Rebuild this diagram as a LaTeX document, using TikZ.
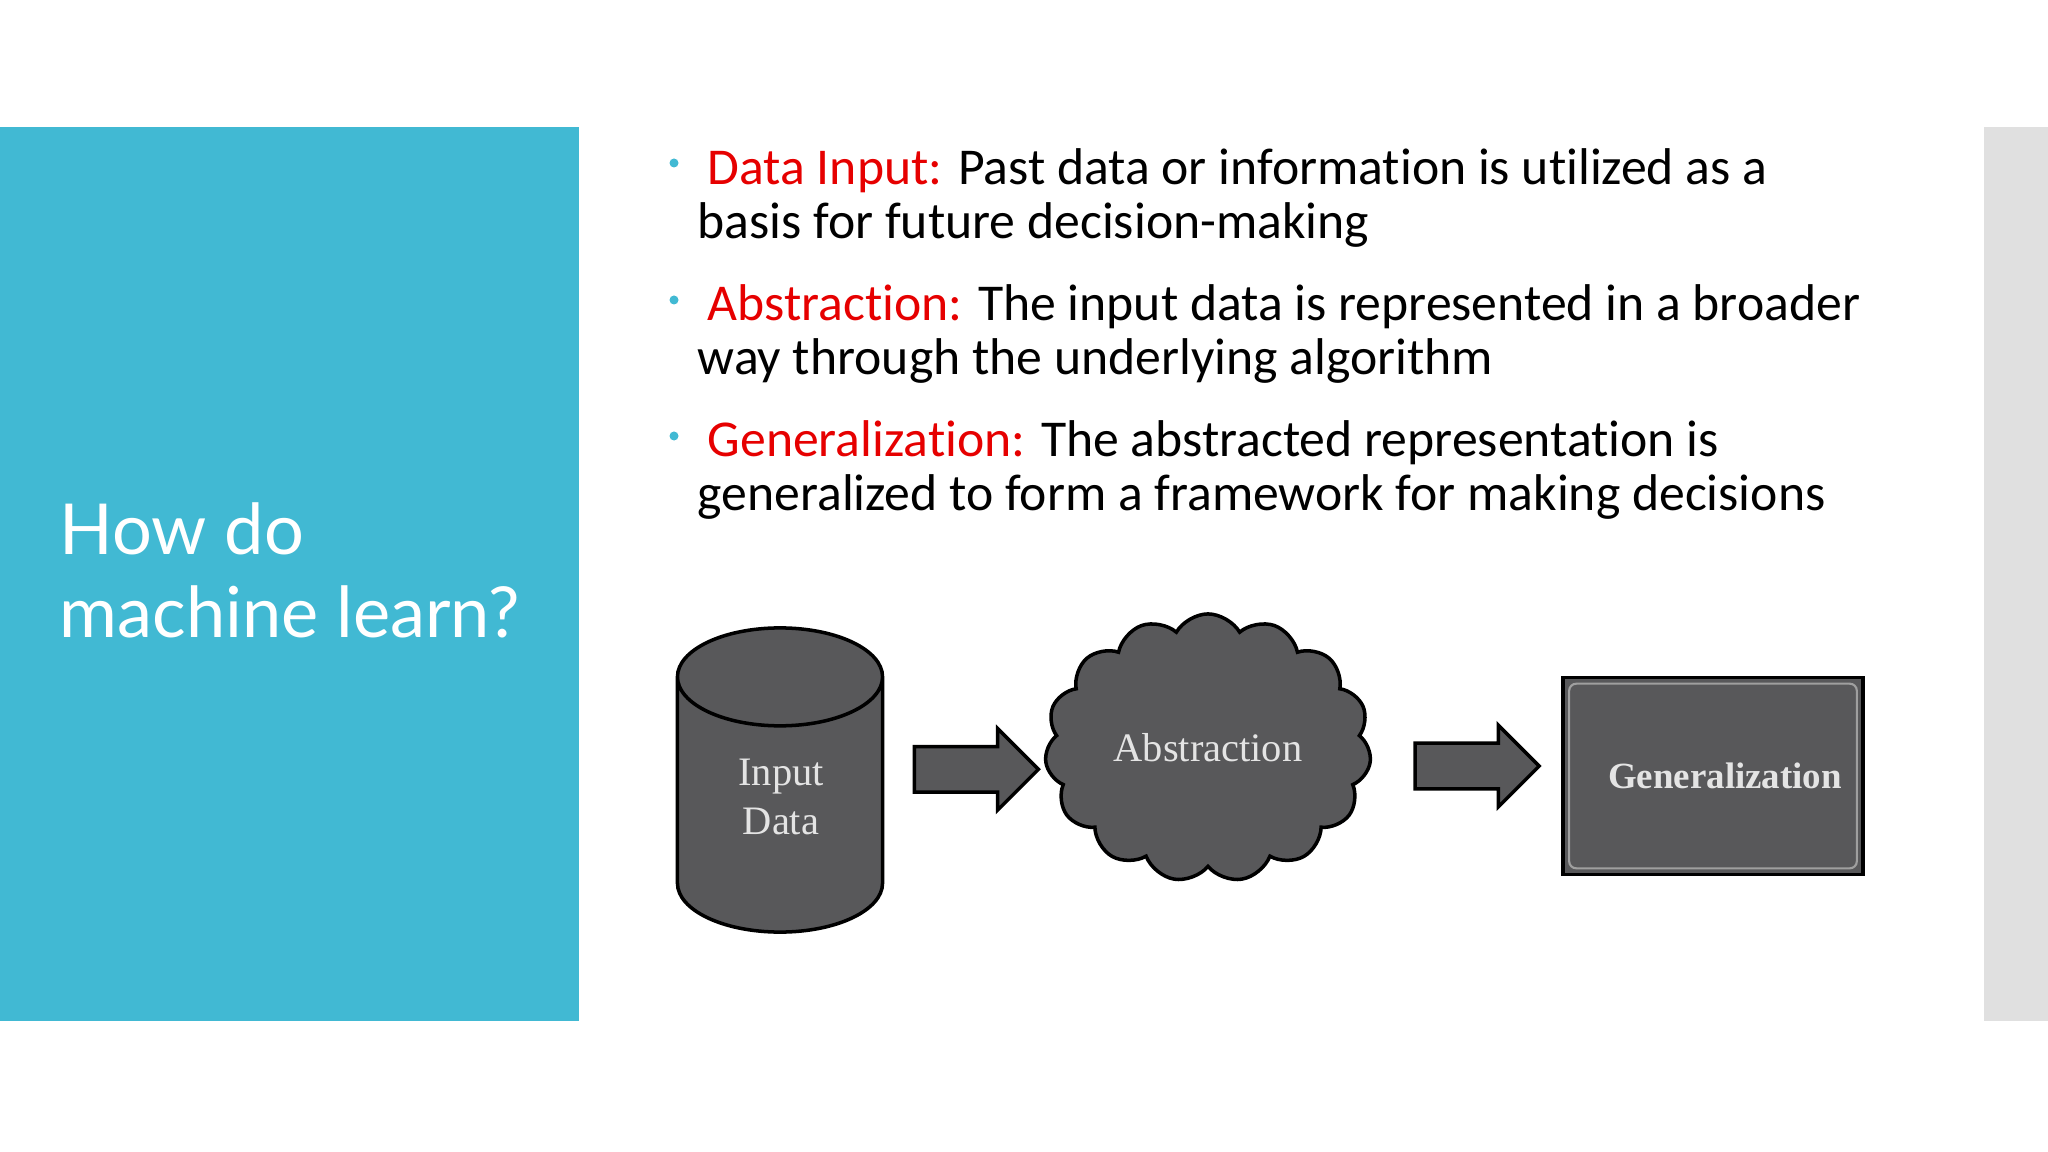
\documentclass[tikz,border=0pt]{standalone}
\usepackage{fontspec}
\setmainfont[Ligatures=NoCommon]{Carlito}
\newfontfamily\titlefont{Lato}
\newfontfamily\figfont{Liberation Serif}
\usetikzlibrary{positioning,shapes.geometric,shapes.symbols,shapes.arrows}

\definecolor{slideblue}{RGB}{65,185,211}
\definecolor{stripgrey}{RGB}{224,224,224}
\definecolor{darkfill}{RGB}{88,88,90}
\definecolor{labelred}{RGB}{230,0,0}
\definecolor{figtext}{RGB}{228,228,228}

\begin{document}
\begin{tikzpicture}[
    x=0.01cm, y=-0.01cm,
    item/.style={anchor=base west, align=left, inner sep=0pt, font=\fontsize{14.7}{15.6}\selectfont},
    dot/.style={circle, fill=slideblue, inner sep=0pt, minimum size=0.09cm},
    darkshape/.style={draw=black, line width=1pt, fill=darkfill, text=figtext, align=center, font=\figfont\fontsize{11.5}{13.7}\selectfont},
    figlabel/.style={text=figtext, align=center, font=\figfont\fontsize{11.5}{13.7}\selectfont},
    blockarrow/.style={single arrow, draw=black, line width=1pt, fill=darkfill, inner xsep=0pt, inner ysep=0.21cm, minimum height=1.24cm, minimum width=0.78cm, single arrow head extend=0.18cm}
]
\useasboundingbox (0,0) rectangle (2048,1152);
% slide background
\fill[slideblue] (0,127) rectangle (579,1021);
\fill[stripgrey] (1984,127) rectangle (2048,1021);

\node[anchor=base west, align=left, inner sep=0pt, text=white, font=\titlefont\fontsize{20}{23.4}\selectfont] (title) at (59,637) {How do\\machine learn?};

% bullets
\node[dot] (b1) at (674,163) {};
\node[item] (it1) at (697,239) {\hspace*{0.1cm}\textcolor{labelred}{Data Input:} Past data or information is utilized as a\\basis for future decision-making};
\node[dot] (b2) at (674,300) {};
\node[item] (it2) at (697,375) {\hspace*{0.1cm}\textcolor{labelred}{Abstraction:} The input data is represented in a broader\\way through the underlying algorithm};
\node[dot] (b3) at (674,436) {};
\node[item] (it3) at (697,511) {\hspace*{0.1cm}\textcolor{labelred}{Generalization:} The abstracted representation is\\generalized to form a framework for making decisions};

% diagram
\node[darkshape, cylinder, shape border rotate=90, aspect=0.9, minimum width=2.05cm, minimum height=3.04cm, anchor=shape center] (cyl) at (780,780) {\phantom{Input}\\\phantom{Data}};
\node[figlabel] (cyltxt) at (781,797) {Input\\Data};
\node[darkshape, cloud, cloud puffs=15, cloud puff arc=120, cloud ignores aspect, minimum width=3.26cm, minimum height=2.68cm] (cld) at (1208,748) {Abstraction};
\node[darkshape, rectangle, minimum width=3cm, minimum height=1.97cm, font=\figfont\bfseries\fontsize{10.5}{13}\selectfont] (gen) at (1713,776) {\hspace*{0.24cm}Generalization};
\draw[gray!75, line width=0.6pt, rounded corners=2pt] ([shift={(0.08cm,-0.08cm)}]gen.north west) rectangle ([shift={(-0.08cm,0.08cm)}]gen.south east);

\path (cyl.east) -- (cld.west) node[blockarrow, midway, yshift=0.13cm] (arr1) {};
\path (cld.east) -- (gen.west) node[blockarrow, midway, yshift=-0.04cm] (arr2) {};
\end{tikzpicture}
\end{document}
